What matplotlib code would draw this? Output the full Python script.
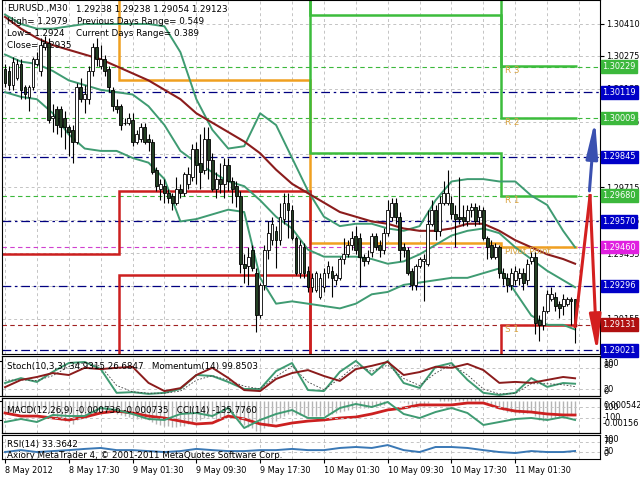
import numpy as np
import matplotlib.pyplot as plt

plt.rcParams['font.family'] = ['DejaVu Sans']
plt.rcParams['font.size'] = 6.3

# EURUSD M30 candles, bar 0 = 8 May 2012 09:30
opens = [1.3022, 1.3021, 1.3015, 1.3018, 1.3024, 1.3014, 1.3010, 1.3014, 1.3024, 1.3021,
         1.3031, 1.3033, 1.3001, 1.3005, 1.3005, 1.3001, 1.2997, 1.2996, 1.2991, 1.3014,
         1.3009, 1.3009, 1.3021, 1.3031, 1.3023, 1.3026, 1.3022, 1.3013, 1.3006, 1.3006,
         1.2999, 1.2999, 1.3000, 1.2991, 1.2992, 1.2997, 1.2992, 1.2991, 1.2979, 1.2971,
         1.2972, 1.2969, 1.2968, 1.2965, 1.2971, 1.2969, 1.2973, 1.2976, 1.2988, 1.2982,
         1.2979, 1.2992, 1.2983, 1.2971, 1.2975, 1.2973, 1.2981, 1.2974, 1.2972, 1.2968,
         1.2939, 1.2938, 1.2945, 1.2935, 1.2917, 1.2930, 1.2945, 1.2949, 1.2953, 1.2949,
         1.2958, 1.2965, 1.2962, 1.2950, 1.2935, 1.2946, 1.2936, 1.2929, 1.2928, 1.2925,
         1.2929, 1.2935, 1.2936, 1.2932, 1.2933, 1.2941, 1.2943, 1.2947, 1.2951, 1.2950,
         1.2942, 1.2940, 1.2944, 1.2951, 1.2947, 1.2945, 1.2952, 1.2959, 1.2965, 1.2959,
         1.2946, 1.2945, 1.2936, 1.2930, 1.2938, 1.2940, 1.2939, 1.2956, 1.2962, 1.2953,
         1.2965, 1.2965, 1.2965, 1.2960, 1.2959, 1.2959, 1.2957, 1.2962, 1.2963, 1.2959,
         1.2962, 1.2950, 1.2947, 1.2942, 1.2946, 1.2935, 1.2933, 1.2930, 1.2932, 1.2933,
         1.2935, 1.2932, 1.2940, 1.2942, 1.2915, 1.2913, 1.2919, 1.2924, 1.2925, 1.2922,
         1.2921, 1.2922, 1.2924, 1.29238]
highs = [1.3024, 1.3023, 1.3027, 1.3026, 1.3026, 1.3015, 1.3015, 1.3027, 1.3029, 1.3035,
         1.3036, 1.3035, 1.3007, 1.3006, 1.3006, 1.3004, 1.2998, 1.2998, 1.3016, 1.3018,
         1.3015, 1.3023, 1.3033, 1.3035, 1.3032, 1.3028, 1.3023, 1.3014, 1.3009, 1.3007,
         1.3001, 1.3003, 1.3003, 1.2996, 1.2999, 1.2999, 1.2994, 1.2992, 1.2980, 1.2975,
         1.2975, 1.2971, 1.2969, 1.2976, 1.2973, 1.2978, 1.2980, 1.2990, 1.2991, 1.2994,
         1.2997, 1.2997, 1.2986, 1.2978, 1.2982, 1.2984, 1.2984, 1.2976, 1.2974, 1.2970,
         1.2943, 1.2946, 1.2947, 1.2937, 1.2931, 1.2947, 1.2957, 1.2959, 1.2955, 1.2965,
         1.2969, 1.2969, 1.2964, 1.2951, 1.2949, 1.2948, 1.2938, 1.2935, 1.2936, 1.2935,
         1.2937, 1.2940, 1.2938, 1.2935, 1.2942, 1.2950, 1.2949, 1.2953, 1.2955, 1.2952,
         1.2943, 1.2945, 1.2952, 1.2952, 1.2949, 1.2954, 1.2966, 1.2967, 1.2967, 1.2961,
         1.2948, 1.2946, 1.2937, 1.2939, 1.2942, 1.2943, 1.2962, 1.2966, 1.2964, 1.2968,
         1.2974, 1.2979, 1.2968, 1.2964, 1.2976, 1.2964, 1.2964, 1.2965, 1.2965, 1.2964,
         1.2963, 1.2951, 1.2949, 1.2948, 1.2947, 1.2937, 1.2935, 1.2937, 1.2938, 1.2937,
         1.2937, 1.2941, 1.2944, 1.2944, 1.2917, 1.2921, 1.2928, 1.2929, 1.2927, 1.2923,
         1.2926, 1.2925, 1.2925, 1.29238]
lows = [1.3014, 1.3013, 1.3013, 1.3017, 1.3009, 1.3009, 1.3004, 1.3013, 1.3023, 1.3019,
        1.3030, 1.2999, 1.2995, 1.2994, 1.2993, 1.2988, 1.2985, 1.2982, 1.2990, 1.3008,
        1.3003, 1.3007, 1.3019, 1.3023, 1.3022, 1.3019, 1.3012, 1.3004, 1.3003, 1.2996,
        1.2998, 1.2998, 1.2989, 1.2990, 1.2991, 1.2990, 1.2987, 1.2977, 1.2970, 1.2966,
        1.2965, 1.2965, 1.2962, 1.2964, 1.2967, 1.2968, 1.2971, 1.2974, 1.2973, 1.2971,
        1.2977, 1.2975, 1.2970, 1.2967, 1.2969, 1.2967, 1.2970, 1.2965, 1.2963, 1.2935,
        1.2931, 1.2930, 1.2936, 1.2910, 1.2916, 1.2928, 1.2941, 1.2947, 1.2937, 1.2947,
        1.2956, 1.2950, 1.2949, 1.2934, 1.2933, 1.2933, 1.2927, 1.2927, 1.2927, 1.2924,
        1.2927, 1.2933, 1.2925, 1.2930, 1.2932, 1.2939, 1.2942, 1.2945, 1.2943, 1.2929,
        1.2938, 1.2939, 1.2942, 1.2945, 1.2942, 1.2943, 1.2951, 1.2957, 1.2956, 1.2940,
        1.2942, 1.2934, 1.2928, 1.2928, 1.2937, 1.2923, 1.2938, 1.2955, 1.2949, 1.2951,
        1.2964, 1.2964, 1.2958, 1.2946, 1.2956, 1.2955, 1.2955, 1.2959, 1.2955, 1.2956,
        1.2949, 1.2941, 1.2941, 1.2941, 1.2933, 1.2930, 1.2927, 1.2928, 1.2930, 1.2930,
        1.2928, 1.2930, 1.2939, 1.2909, 1.2906, 1.2911, 1.2918, 1.2923, 1.2919, 1.2916,
        1.2917, 1.2921, 1.2913, 1.29054]
closes = [1.3016, 1.3015, 1.3025, 1.3024, 1.3013, 1.3011, 1.3014, 1.3026, 1.3026, 1.3032,
          1.3033, 1.3000, 1.3002, 1.2998, 1.2997, 1.2997, 1.2995, 1.2991, 1.3014, 1.3009,
          1.3011, 1.3021, 1.3031, 1.3026, 1.3026, 1.3021, 1.3014, 1.3006, 1.3005, 1.2998,
          1.2999, 1.3001, 1.2991, 1.2994, 1.2997, 1.2991, 1.2991, 1.2978, 1.2972, 1.2973,
          1.2969, 1.2967, 1.2965, 1.2971, 1.2969, 1.2977, 1.2977, 1.2988, 1.2981, 1.2978,
          1.2992, 1.2983, 1.2971, 1.2975, 1.2973, 1.2981, 1.2974, 1.2971, 1.2968, 1.2939,
          1.2937, 1.2942, 1.2937, 1.2917, 1.2930, 1.2945, 1.2952, 1.2956, 1.2949, 1.2959,
          1.2965, 1.2962, 1.2950, 1.2935, 1.2947, 1.2935, 1.2929, 1.2933, 1.2935, 1.2933,
          1.2935, 1.2938, 1.2933, 1.2934, 1.2941, 1.2943, 1.2947, 1.2950, 1.2945, 1.2942,
          1.2940, 1.2942, 1.2951, 1.2946, 1.2945, 1.2952, 1.2962, 1.2965, 1.2959, 1.2945,
          1.2945, 1.2935, 1.2930, 1.2938, 1.2941, 1.2941, 1.2956, 1.2962, 1.2953, 1.2965,
          1.2969, 1.2969, 1.2960, 1.2958, 1.2958, 1.2957, 1.2962, 1.2963, 1.2957, 1.2962,
          1.2950, 1.2946, 1.2942, 1.2946, 1.2935, 1.2933, 1.2930, 1.2935, 1.2936, 1.2935,
          1.2931, 1.2939, 1.2942, 1.2914, 1.2913, 1.2919, 1.2926, 1.2926, 1.2921, 1.2920,
          1.2924, 1.2924, 1.2923, 1.29123]

# indicators read every 4 bars
ind_bars = list(range(0, 144, 4)) + [143]
bb_upper = [1.3045, 1.3041, 1.3039, 1.3039, 1.3040, 1.3041, 1.3041, 1.3041, 1.3041, 1.3041,
            1.3040, 1.3029, 1.3009, 1.2996, 1.2988, 1.2989, 1.3003, 1.2998, 1.2984, 1.2970,
            1.2959, 1.2955, 1.2956, 1.2956, 1.2954, 1.2953, 1.2955, 1.2966, 1.2974, 1.2975,
            1.2975, 1.2974, 1.2974, 1.2968, 1.2964, 1.2953, 1.2946]
bb_middle = [1.3028, 1.3025, 1.3024, 1.3021, 1.3017, 1.3015, 1.3013, 1.3012, 1.3011, 1.3006,
             1.2998, 1.2987, 1.2982, 1.2978, 1.2974, 1.2972, 1.2966, 1.2959, 1.2954, 1.2945,
             1.2942, 1.2942, 1.2942, 1.2941, 1.2939, 1.2940, 1.2943, 1.2947, 1.2951, 1.2953,
             1.2954, 1.2952, 1.2946, 1.2941, 1.2936, 1.2932, 1.2929]
bb_lower = [1.3012, 1.3010, 1.3009, 1.3003, 1.2994, 1.2988, 1.2987, 1.2987, 1.2984, 1.2982,
            1.2975, 1.2957, 1.2958, 1.2960, 1.2962, 1.2961, 1.2933, 1.2922, 1.2923, 1.2922,
            1.2921, 1.2920, 1.2922, 1.2926, 1.2927, 1.2930, 1.2931, 1.2932, 1.2933, 1.2933,
            1.2935, 1.2937, 1.2927, 1.2917, 1.2913, 1.2913, 1.2911]
ma_slow = [1.3044, 1.3039, 1.3035, 1.3032, 1.3030, 1.3028, 1.3026, 1.3023, 1.3020, 1.3017,
           1.3013, 1.3009, 1.3003, 1.2999, 1.2995, 1.2991, 1.2986, 1.2979, 1.2973, 1.2969,
           1.2965, 1.2961, 1.2959, 1.2957, 1.2956, 1.2954, 1.2953, 1.2953, 1.2954, 1.2956,
           1.2956, 1.2953, 1.2949, 1.2946, 1.2943, 1.2941, 1.2939]

stoch_main = [37, 51, 40, 69, 94, 97, 77, 9, 11, 6, 9, 20, 60, 57, 40, 20, 20, 71, 94, 17,
              14, 69, 100, 60, 100, 37, 23, 83, 94, 46, 9, 3, 9, 51, 26, 37, 34.93]
stoch_signal = [45, 46, 44, 58, 84, 95, 85, 30, 12, 8, 8, 14, 45, 58, 45, 28, 20, 55, 85, 40,
                18, 50, 88, 70, 88, 50, 30, 65, 90, 60, 20, 6, 7, 35, 35, 32, 26.68]
momentum = [99.58, 99.80, 99.89, 100.01, 99.95, 100.17, 100.13, 100.17, 100.20, 99.71,
            99.46, 99.55, 99.95, 100.17, 99.86, 99.49, 99.46, 99.83, 100.01, 100.10,
            99.92, 99.77, 100.13, 100.23, 100.35, 99.95, 100.04, 100.20, 100.17, 100.29,
            100.10, 99.71, 99.74, 99.71, 99.80, 99.89, 99.85]
macd_signal = [-0.00063, -0.00079, -0.00079, -0.00089, -0.00099, -0.00084, -0.00063, -0.00053,
               -0.00063, -0.00079, -0.00089, -0.00105, -0.00120, -0.00115, -0.00079, -0.00094,
               -0.00120, -0.00131, -0.00115, -0.00105, -0.00099, -0.00089, -0.00084, -0.00068,
               -0.00047, -0.00037, -0.00021, -0.00021, -0.00021, -0.00011, -0.00011, -0.00037,
               -0.00053, -0.00058, -0.00068, -0.00073, -0.000735]
cci = [-173, -118, -173, -45, -64, -64, 82, 45, -27, -118, -136, -27, -9, -64, 82, -282,
       -136, -27, 45, -100, -100, 82, 155, 100, 191, -27, -100, 9, 82, -9, -227, -173,
       -118, -100, -136, -82, -135.78]
rsi = [29, 37, 29, 33, 37, 42, 46, 37, 37, 33, 29, 33, 42, 37, 33, 33, 37, 37, 42, 37,
       37, 46, 50, 46, 58, 37, 29, 50, 50, 46, 37, 29, 25, 33, 29, 29, 33.36]

# MACD main, one value per bar
macd_main = [-0.00055, -0.00058, -0.00056, -0.00052, -0.00055, -0.00060, -0.00062, -0.00055,
             -0.00050, -0.00042, -0.00036, -0.00058, -0.00074, -0.00088, -0.00098, -0.00106,
             -0.00112, -0.00118, -0.00100, -0.00092, -0.00086, -0.00074, -0.00058, -0.00050,
             -0.00046, -0.00046, -0.00052, -0.00060, -0.00066, -0.00074, -0.00080, -0.00082,
             -0.00088, -0.00092, -0.00092, -0.00095, -0.00098, -0.00108, -0.00118, -0.00124,
             -0.00128, -0.00132, -0.00135, -0.00134, -0.00132, -0.00128, -0.00122, -0.00110,
             -0.00104, -0.00100, -0.00090, -0.00086, -0.00090, -0.00092, -0.00092, -0.00088,
             -0.00086, -0.00086, -0.00088, -0.00110, -0.00126, -0.00134, -0.00140, -0.00156,
             -0.00154, -0.00142, -0.00128, -0.00114, -0.00104, -0.00090, -0.00076, -0.00066,
             -0.00066, -0.00074, -0.00072, -0.00074, -0.00078, -0.00078, -0.00078, -0.00077,
             -0.00074, -0.00070, -0.00068, -0.00064, -0.00058, -0.00052, -0.00046, -0.00040,
             -0.00038, -0.00038, -0.00038, -0.00036, -0.00030, -0.00028, -0.00026, -0.00020,
             -0.00010, -0.00002, 0.00002, -0.00004, -0.00008, -0.00016, -0.00024, -0.00026,
             -0.00026, -0.00026, -0.00012, 0.00000, 0.00002, 0.00014, 0.00030, 0.00054,
             0.00046, 0.00040, 0.00036, 0.00030, 0.00028, 0.00026, 0.00020, 0.00018,
             0.00008, -0.00004, -0.00016, -0.00022, -0.00036, -0.00046, -0.00056, -0.00060,
             -0.00062, -0.00064, -0.00068, -0.00064, -0.00060, -0.00080, -0.00098, -0.00104,
             -0.00100, -0.00094, -0.00090, -0.00086, -0.00080, -0.00076, -0.00074, -0.000736]

# daily pivot levels (8, 9, 10, 11 May)
day_edges = [-1, 28.5, 76.5, 124.5, 143.4]
pivot_lv = [1.3070, 1.3017, 1.2948, 1.2946]
r1_lv = [1.3110, 1.3053, 1.2986, 1.2968]
r2_lv = [1.3150, 1.3100, 1.3045, 1.3001]
r3_lv = [1.3190, 1.3146, 1.3083, 1.3023]
s1_lv = [1.2943, 1.2970, 1.2889, 1.2913]
s2_lv = [1.2870, 1.2934, 1.2851, 1.2891]

blue_levels = [1.30119, 1.29845, 1.29570, 1.29296, 1.29021]
green_levels = [1.30229, 1.30009, 1.29680]
magenta_level = 1.29460
red_level = 1.29131

# projection arrows at the right
proj_bars = [143, 146.75, 148.5]
proj_red = [1.29123, 1.2968, 1.2901]
blue_bars = [146.6, 148.0]
proj_blue = [1.2970, 1.3000]

price_ticks = [1.30410, 1.30275, 1.30135, 1.29995, 1.29855, 1.29715, 1.29575, 1.29435, 1.29295, 1.29155]
time_bars = [0, 16, 32, 48, 64, 80, 96, 112, 128]
time_labels = ['8 May 2012', '8 May 17:30', '9 May 01:30', '9 May 09:30', '9 May 17:30',
               '10 May 01:30', '10 May 09:30', '10 May 17:30', '11 May 01:30']

teal = '#3f9b72'
maroon = '#8b1c1c'
grid_c = '#c4c4c4'
axis_fs = 5.9

W, H = 640, 480
fig = plt.figure(figsize=(W / 100, H / 100), dpi=100)


def panel(top, bottom):
    a = fig.add_axes([2 / W, 1 - bottom / H, 598 / W, (bottom - top) / H])
    a.set_xlim(-0.75, 149.25)
    a.tick_params(axis='x', bottom=False, labelbottom=False)
    a.tick_params(axis='y', left=False, labelleft=False)
    for b in range(0, 150, 8):
        a.axvline(b, color=grid_c, lw=0.7, ls=(0, (3, 3)), zorder=0)
    return a


def ptext(x, y, s, **kw):  # text at pixel position
    fig.text(x / W, 1 - y / H, s, va='center', **kw)


# ---------------- main price chart ----------------
ax = panel(0, 354)
ax.set_ylim(1.29006, 1.30512)
ax.yaxis.tick_right()
ax.set_yticks(price_ticks)
ax.set_yticklabels(['%.5f' % t for t in price_ticks])
ax.tick_params(axis='y', right=True, labelright=True, length=3, pad=1.5, labelsize=axis_fs)
for t in price_ticks:
    ax.axhline(t, color=grid_c, lw=0.7, ls=(0, (3, 3)), zorder=0)

for lv in blue_levels:
    ax.axhline(lv, color='#000080', lw=0.9, ls=(0, (7, 3, 2, 3)), zorder=1)
for lv in green_levels:
    ax.axhline(lv, color='#3cb83c', lw=0.8, ls=(0, (4, 3)), zorder=1)
ax.axhline(magenta_level, color='#d040d0', lw=0.8, ls=(0, (4, 3)), zorder=1)
ax.axhline(red_level, color='#a02020', lw=0.8, ls=(0, (4, 3)), zorder=1)

# pivot steps
ax.stairs(pivot_lv, day_edges, baseline=None, color='#f0a020', lw=1.8, zorder=2)
for lv in [r1_lv, r2_lv, r3_lv]:
    ax.stairs(lv, day_edges, baseline=None, color='#3cbc3c', lw=1.8, zorder=2)
for lv in [s1_lv, s2_lv]:
    ax.stairs(lv, day_edges, baseline=None, color='#cc1f1f', lw=1.8, zorder=2)
lbl_c = '#d9a441'
ax.text(125.5, r3_lv[3], 'R 3', va='top', color=lbl_c)
ax.text(125.5, r2_lv[3], 'R 2', va='top', color=lbl_c)
ax.text(125.5, r1_lv[3], 'R 1', va='top', color=lbl_c)
ax.text(125.5, pivot_lv[3], 'Pivot Point', va='top', color=lbl_c)
ax.text(125.5, s1_lv[3], 'S 1', va='top', color=lbl_c)

# bands and moving average
ax.plot(ind_bars, bb_upper, color=teal, lw=1.4, zorder=2)
ax.plot(ind_bars, bb_middle, color=teal, lw=1.4, zorder=2)
ax.plot(ind_bars, bb_lower, color=teal, lw=1.4, zorder=2)
ax.plot(ind_bars, ma_slow, color=maroon, lw=1.5, zorder=2)

# candles
o = np.array(opens)
h = np.array(highs)
l = np.array(lows)
c = np.array(closes)
bars = np.arange(len(o))
ax.vlines(bars, l, h, color='black', lw=0.8, zorder=3)
body_c = np.where(c >= o, 'white', '#233f23')
ax.bar(bars, np.abs(c - o), bottom=np.minimum(o, c), width=0.7, color=body_c,
       edgecolor='black', lw=0.6, zorder=4)

# projection arrows
ax.plot(proj_bars[:2], proj_red[:2], color='#d42020', lw=2.2, zorder=5)
ax.annotate('', xy=(proj_bars[2], proj_red[2]), xytext=(proj_bars[1], proj_red[1]),
            arrowprops=dict(arrowstyle='-|>,head_length=2.2,head_width=0.35', color='#d42020',
                            lw=2.2, shrinkA=0, shrinkB=0, mutation_scale=10), zorder=5)
ax.annotate('', xy=(blue_bars[1], proj_blue[1]), xytext=(blue_bars[0], proj_blue[0]),
            arrowprops=dict(arrowstyle='-|>,head_length=2.2,head_width=0.35', color='#3a50b0',
                            lw=2.2, shrinkA=0, shrinkB=0, mutation_scale=10), zorder=5)

# coloured price labels on the right axis
tags = [(lv, '#0000c8') for lv in blue_levels] + [(lv, '#3cb83c') for lv in green_levels]
tags += [(magenta_level, '#e020e0'), (red_level, '#b01010')]
for lv, col in tags:
    ax.text(1.004, lv, '%.5f' % lv, transform=ax.get_yaxis_transform(), color='white',
            fontsize=axis_fs, va='center', ha='left', clip_on=False, zorder=10,
            bbox=dict(boxstyle='square,pad=0.2', fc=col, ec=col))

ptext(7, 9, 'EURUSD.,M30')
ptext(76, 9, '1.29238 1.29238 1.29054 1.29123')
ptext(7, 21, 'High= 1.2979')
ptext(77, 21, 'Previous Days Range= 0.549')
ptext(7, 33, 'Low= 1.2924')
ptext(76, 33, 'Current Days Range= 0.389')
ptext(7, 45, 'Close= 1.2935')

# ---------------- Stochastic + Momentum ----------------
ax_st = panel(356, 396)
ax_st.set_ylim(0, 114)
for lv in [20, 80]:
    ax_st.axhline(lv, color=grid_c, lw=0.7, ls=(0, (3, 3)), zorder=0)
ax_st.plot(ind_bars, stoch_main, color=teal, lw=1.4)
ax_st.plot(ind_bars, stoch_signal, color='#404040', lw=0.6, ls=(0, (2, 2)))
ax_mom = ax_st.twinx()
ax_mom.set_ylim(99.31, 100.53)
ax_mom.set_yticks([])
ax_mom.plot(ind_bars, momentum, color=maroon, lw=1.4)
ptext(7, 367, 'Stoch(10,3,3) 34.9315 26.6847   Momentum(14) 99.8503')
ptext(603, 363, '100', fontsize=axis_fs)
ptext(603, 366, '80', fontsize=axis_fs)
ptext(603, 389, '20', fontsize=axis_fs)
ptext(603, 391, '0', fontsize=axis_fs)

# ---------------- MACD + CCI ----------------
ax_md = panel(398, 433)
ax_md.set_ylim(-0.00167, 0.00015)
ax_md.vlines(bars, 0, macd_main, color='#b4b4b4', lw=1.0)
ax_md.plot(ind_bars, macd_signal, color='#cc2020', lw=2.0)
ax_cci = ax_md.twinx()
ax_cci.set_ylim(-373, 264)
ax_cci.set_yticks([])
for lv in [100, -100]:
    ax_cci.axhline(lv, color=grid_c, lw=0.7, ls=(0, (3, 3)), zorder=0)
ax_cci.plot(ind_bars, cci, color=teal, lw=1.4)
ptext(7, 410, 'MACD(12,26,9) -0.000736 -0.000735   CCI(14) -135.7760')
ptext(603, 405, '0.000542', fontsize=axis_fs)
ptext(603, 407, '100', fontsize=axis_fs)
ptext(603, 418, '-100', fontsize=axis_fs)
ptext(603, 424, '-0.00156', fontsize=axis_fs)

# ---------------- RSI ----------------
ax_rs = panel(435, 459)
ax_rs.set_ylim(0, 100)
for lv in [30, 70]:
    ax_rs.axhline(lv, color=grid_c, lw=0.7, ls=(0, (3, 3)), zorder=0)
ax_rs.plot(ind_bars, rsi, color='#3a78b5', lw=1.4)
ptext(7, 445, 'RSI(14) 33.3642')
ptext(7, 455, 'Axiory MetaTrader 4, \u00a9 2001-2011 MetaQuotes Software Corp.')
ptext(603, 439, '100', fontsize=axis_fs)
ptext(603, 441, '70', fontsize=axis_fs)
ptext(603, 452, '30', fontsize=axis_fs)
ptext(603, 454, '0', fontsize=axis_fs)

ax_rs.set_xticks(time_bars)
ax_rs.set_xticklabels(time_labels, ha='left')
ax_rs.tick_params(axis='x', bottom=True, labelbottom=True, length=3, pad=2, labelsize=axis_fs)

fig.savefig('out.png', dpi=100)
